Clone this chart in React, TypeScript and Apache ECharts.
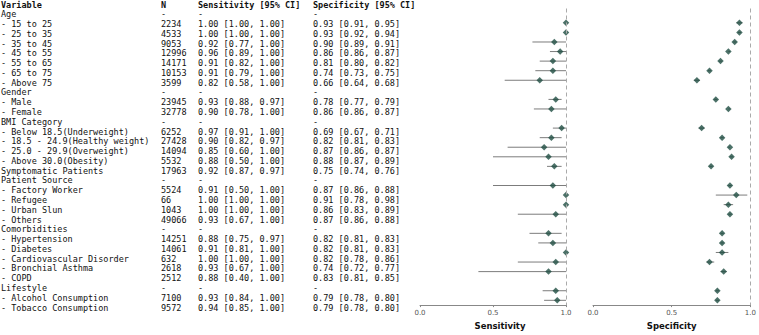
import React, { useEffect, useRef } from "react";
import * as echarts from "echarts";

// Table rows (group headers have no values)
const rowLabels = [
  "Age", "- 15 to 25", "- 25 to 35", "- 35 to 45", "- 45 to 55", "- 55 to 65", "- 65 to 75", "- Above 75",
  "Gender", "- Male", "- Female",
  "BMI Category", "- Below 18.5(Underweight)", "- 18.5 - 24.9(Healthy weight)", "- 25.0 - 29.9(Overweight)", "- Above 30.0(Obesity)",
  "Symptomatic Patients",
  "Patient Source", "- Factory Worker", "- Refugee", "- Urban Slun", "- Others",
  "Comorbidities", "- Hypertension", "- Diabetes", "- Cardiovascular Disorder", "- Bronchial Asthma", "- COPD",
  "Lifestyle", "- Alcohol Consumption", "- Tobacco Consumption",
];

const nCounts = [
  null, 2234, 4533, 9053, 12996, 14171, 10153, 3599,
  null, 23945, 32778,
  null, 6252, 27428, 14094, 5532,
  17963,
  null, 5524, 66, 1043, 49066,
  null, 14251, 14061, 632, 2618, 2512,
  null, 7100, 9572,
];

const sensEst = [
  null, 1.0, 1.0, 0.92, 0.96, 0.91, 0.91, 0.82,
  null, 0.93, 0.9,
  null, 0.97, 0.9, 0.85, 0.88,
  0.92,
  null, 0.91, 1.0, 1.0, 0.93,
  null, 0.88, 0.91, 1.0, 0.93, 0.88,
  null, 0.93, 0.94,
];
const sensLow = [
  null, 1.0, 1.0, 0.77, 0.89, 0.82, 0.79, 0.58,
  null, 0.88, 0.78,
  null, 0.91, 0.82, 0.6, 0.5,
  0.87,
  null, 0.5, 1.0, 1.0, 0.67,
  null, 0.75, 0.81, 1.0, 0.67, 0.4,
  null, 0.84, 0.85,
];
const sensHigh = [
  null, 1.0, 1.0, 1.0, 1.0, 1.0, 1.0, 1.0,
  null, 0.97, 1.0,
  null, 1.0, 0.97, 1.0, 1.0,
  0.97,
  null, 1.0, 1.0, 1.0, 1.0,
  null, 0.97, 1.0, 1.0, 1.0, 1.0,
  null, 1.0, 1.0,
];

const specEst = [
  null, 0.93, 0.93, 0.9, 0.86, 0.81, 0.74, 0.66,
  null, 0.78, 0.86,
  null, 0.69, 0.82, 0.87, 0.88,
  0.75,
  null, 0.87, 0.91, 0.86, 0.87,
  null, 0.82, 0.82, 0.82, 0.74, 0.83,
  null, 0.79, 0.79,
];
const specLow = [
  null, 0.91, 0.92, 0.89, 0.86, 0.8, 0.73, 0.64,
  null, 0.77, 0.86,
  null, 0.67, 0.81, 0.86, 0.87,
  0.74,
  null, 0.86, 0.78, 0.83, 0.86,
  null, 0.81, 0.81, 0.78, 0.72, 0.81,
  null, 0.78, 0.78,
];
const specHigh = [
  null, 0.95, 0.94, 0.91, 0.87, 0.82, 0.75, 0.68,
  null, 0.79, 0.87,
  null, 0.71, 0.83, 0.87, 0.89,
  0.76,
  null, 0.88, 0.98, 0.89, 0.88,
  null, 0.83, 0.83, 0.86, 0.77, 0.85,
  null, 0.8, 0.8,
];

const headers = ["Variable", "N", "Sensitivity [95% CI]", "Specificity [95% CI]"];

const GRID_TOP = 8.5;
const GRID_HEIGHT = 303;
const ROW_H = GRID_HEIGHT / rowLabels.length;
const TEXT_NUDGE = 0.9;
const COL_X = [1, 161, 198, 313];
const MONO = "'DejaVu Sans Mono', 'Liberation Mono', monospace";
const MARKER = "#1f4d42";
const CI_COLOR = "#7c7c7c";

const fmtCI = (e: number | null, lo: number | null, hi: number | null) =>
  e == null ? "-" : `${e.toFixed(2)} [${(lo as number).toFixed(2)}, ${(hi as number).toFixed(2)}]`;

function tableGraphics() {
  const els: any[] = [];
  const addText = (text: string, x: number, y: number, bold: boolean) =>
    els.push({
      type: "text",
      x,
      y,
      silent: true,
      style: {
        text,
        fontFamily: MONO,
        fontSize: 8.5,
        fontWeight: bold ? "bold" : "normal",
        fill: "#111",
        verticalAlign: "middle",
        align: "left",
      },
    });
  const headerY = GRID_TOP - ROW_H / 2 + TEXT_NUDGE;
  headers.forEach((h, c) => addText(h, COL_X[c], headerY, true));
  rowLabels.forEach((label, i) => {
    const y = GRID_TOP + (i + 0.5) * ROW_H + TEXT_NUDGE;
    addText(label, COL_X[0], y, false);
    addText(nCounts[i] == null ? "-" : String(nCounts[i]), COL_X[1], y, false);
    addText(fmtCI(sensEst[i], sensLow[i], sensHigh[i]), COL_X[2], y, false);
    addText(fmtCI(specEst[i], specLow[i], specHigh[i]), COL_X[3], y, false);
  });
  return els;
}

function intervalData(lo: (number | null)[], hi: (number | null)[]) {
  const out: any[] = [];
  lo.forEach((l, i) => {
    if (l != null && hi[i] != null) out.push([l, hi[i], i]);
  });
  return out;
}

function pointData(est: (number | null)[]) {
  const out: any[] = [];
  est.forEach((e, i) => {
    if (e != null) out.push([e, i]);
  });
  return out;
}

const renderInterval = (params: any, api: any) => {
  const a = api.coord([api.value(0), api.value(2)]);
  const b = api.coord([api.value(1), api.value(2)]);
  return {
    type: "line",
    shape: { x1: a[0], y1: a[1], x2: b[0], y2: b[1] },
    style: { stroke: CI_COLOR, lineWidth: 1 },
  };
};

function xAxisFor(gridIndex: number, name: string, shift: number) {
  return {
    type: "value",
    gridIndex,
    min: 0,
    max: 1,
    interval: 0.5,
    name,
    nameLocation: "middle",
    nameGap: 12.5,
    nameTextStyle: {
      fontFamily: "'DejaVu Sans', sans-serif",
      fontWeight: "bold",
      fontSize: 8.5,
      color: "#111",
      padding: [0, 0, 0, shift],
    },
    axisLine: { show: true, lineStyle: { color: "#888", width: 1 } },
    axisTick: { show: true, length: 2, lineStyle: { color: "#888" } },
    axisLabel: {
      fontFamily: "'DejaVu Sans', sans-serif",
      fontSize: 7,
      color: "#555",
      margin: 4,
      formatter: (v: number) => v.toFixed(1),
    },
    splitLine: { show: false },
  };
}

function yAxisFor(gridIndex: number) {
  return {
    type: "category",
    gridIndex,
    data: rowLabels,
    inverse: true,
    show: false,
  };
}

function seriesFor(idx: number, est: any[], lo: any[], hi: any[]) {
  return [
    {
      type: "custom",
      xAxisIndex: idx,
      yAxisIndex: idx,
      renderItem: renderInterval,
      encode: { x: [0, 1], y: 2 },
      data: intervalData(lo, hi),
      z: 2,
      silent: true,
    },
    {
      type: "scatter",
      xAxisIndex: idx,
      yAxisIndex: idx,
      symbol: "diamond",
      symbolSize: 6.5,
      itemStyle: { color: MARKER },
      data: pointData(est),
      z: 3,
      silent: true,
      markLine: {
        silent: true,
        symbol: "none",
        label: { show: false },
        lineStyle: { color: "#aaa", type: [4, 3], width: 1 },
        data: [{ xAxis: 1 }],
      },
    },
  ];
}

export default function App() {
  const ref = useRef<HTMLDivElement>(null);
  useEffect(() => {
    if (!ref.current) return;
    const chart = echarts.init(ref.current, undefined, { renderer: "svg" });
    chart.setOption({
      animation: false,
      grid: [
        { left: 420, width: 146, top: GRID_TOP, height: GRID_HEIGHT },
        { left: 593, width: 160, top: GRID_TOP, height: GRID_HEIGHT },
      ],
      xAxis: [xAxisFor(0, "Sensitivity", 14), xAxisFor(1, "Specificity", 0)],
      yAxis: [yAxisFor(0), yAxisFor(1)],
      series: [
        ...seriesFor(0, sensEst, sensLow, sensHigh),
        ...seriesFor(1, specEst, specLow, specHigh),
      ],
      graphic: tableGraphics(),
    });
    return () => chart.dispose();
  }, []);
  return (
    <div
      ref={ref}
      style={{ position: "fixed", left: 0, top: 0, width: 759, height: 335, background: "#fff" }}
    />
  );
}
